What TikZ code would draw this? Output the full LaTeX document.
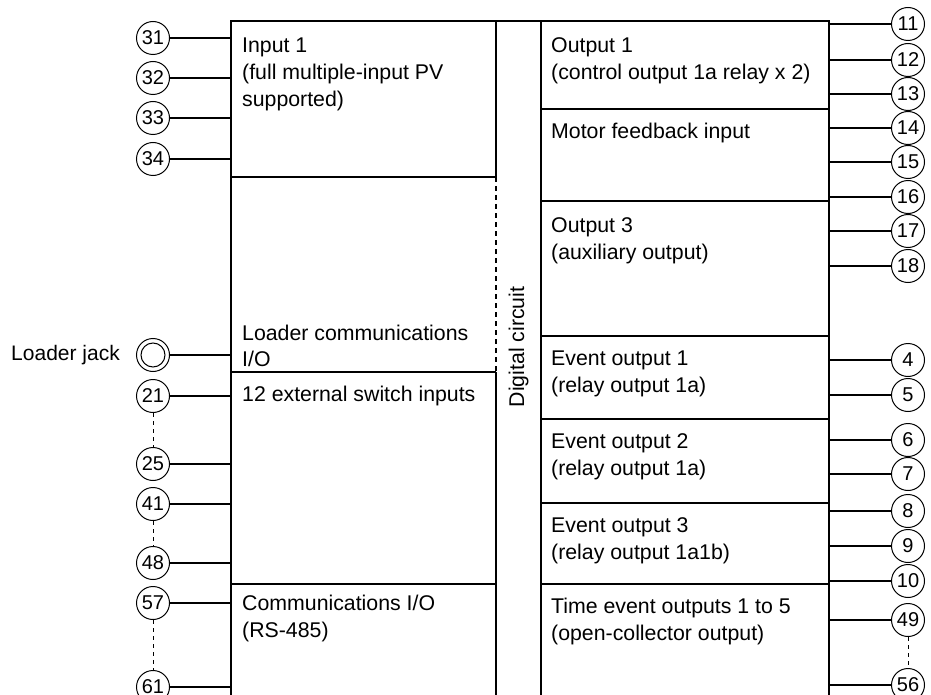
\documentclass[tikz,border=0pt]{standalone}
\usepackage{fontspec}
\setmainfont{Liberation Sans}
\begin{document}
\begin{tikzpicture}[x=1pt,y=-1pt,
  pinc/.style={circle,draw,line width=1pt,minimum size=33pt,inner sep=0pt,font=\fontsize{20}{20}\selectfont},
  wire/.style={line width=1.2pt},
  frame/.style={line width=2pt},
  div/.style={line width=1.2pt},
  dots/.style={line width=1pt,dash pattern=on 4pt off 4pt},
  vdots/.style={line width=1.2pt,dash pattern=on 5pt off 4pt},
  txt/.style={anchor=north west,inner sep=0pt,align=left,font=\fontsize{21.3}{27}\selectfont}]
\useasboundingbox (0,0) rectangle (931,695);
% key coordinates
\coordinate (BL) at (231,21);
\coordinate (BR) at (829,21);
\coordinate (CL) at (496,21);
\coordinate (CR) at (541,21);
% frame
\draw[frame] (231,698) -- (BL) -- (BR) -- (829,698);
% columns
\draw[div] (CL) -- (496,177);
\draw[vdots] (496,177) -- (496,372);
\draw[div] (496,372) -- (496,698);
\draw[div] (CR) -- (541,698);
% left dividers
\foreach \yy in {177,372,584} \draw[div] (231,\yy) -- (496,\yy);
% right dividers
\foreach \yy in {109,201,336,419,503,584} \draw[div] (541,\yy) -- (829,\yy);
% texts
\def\st{\rule{0pt}{16pt}}
\node[txt] (tin1) at (242,36.7) {\st Input 1\\(full multiple-input PV\\supported)};
\node[txt] (tldr) at (242,324.7) {\st Loader communications\\[-1.5pt]I/O};
\node[txt] (tsw) at (242,385.7) {\st 12 external switch inputs};
\node[txt] (tcom) at (242,594) {\st Communications I/O\\(RS-485)};
\node[txt] (tout1) at (551,36.7) {\st Output 1\\(control output 1a relay x 2)};
\node[txt] (tmot) at (551,122.3) {\st Motor feedback input};
\node[txt] (tout3) at (551,216) {\st Output 3\\(auxiliary output)};
\node[txt] (tev1) at (551,349) {\st Event output 1\\(relay output 1a)};
\node[txt] (tev2) at (551,432) {\st Event output 2\\(relay output 1a)};
\node[txt] (tev3) at (551,516) {\st Event output 3\\(relay output 1a1b)};
\node[txt] (ttim) at (551,597.5) {\st Time event outputs 1 to 5\\(open-collector output)};
\node[rotate=90,inner sep=0pt,font=\fontsize{21.3}{27}\selectfont] (tdig) at (518.5,347) {Digital circuit};
% left pins
\foreach \n/\yy in {31/38,32/78,33/118,34/159,21/396,25/464,41/504,48/563,57/603,61/687}{
  \node[pinc] (p\n) at (153,\yy) {\n};
  \draw[wire] (p\n.east) -- (p\n.east -| BL);
}
\draw[dots] (p21.south) -- (p25.north);
\draw[dots] (p41.south) -- (p48.north);
\draw[dots] (p57.south) -- (p61.north);
% loader jack
\node[circle,draw,line width=1pt,minimum size=33pt,inner sep=0pt] (jack) at (153,355) {};
\draw[line width=1pt] (jack.center) circle (12);
\draw[wire] (jack.east) -- (jack.east -| BL);
\node[anchor=east,inner sep=0pt,font=\fontsize{21}{21}\selectfont] (tjack) at (120,355) {Loader jack};
% right pins
\foreach \n/\yy in {11/24,12/60,13/94,14/128,15/162,16/197,17/231,18/266,4/360,5/395,6/440,7/474,8/511,9/546,10/581,49/620,56/685}{
  \node[pinc] (q\n) at (908,\yy) {\n};
  \draw[wire] (q\n.west) -- (q\n.west -| BR);
}
\draw[dots] (q49.south) -- (q56.north);
\end{tikzpicture}
\end{document}
